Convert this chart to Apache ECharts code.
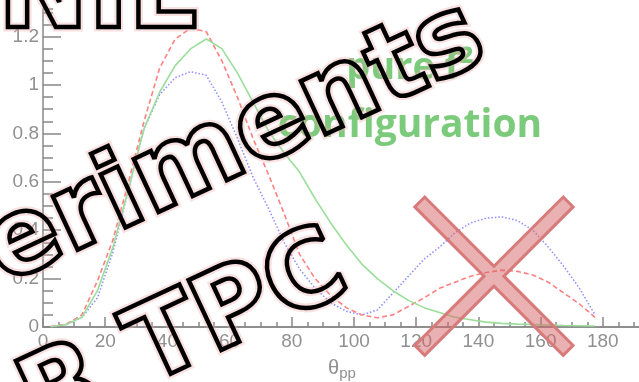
<!DOCTYPE html>
<html>
<head>
<meta charset="utf-8">
<script src="https://cdn.jsdelivr.net/npm/echarts@6/dist/echarts.min.js"></script>
<style>
  html, body { margin: 0; padding: 0; background: #fff; }
  #chart { width: 639px; height: 382px; }
</style>
</head>
<body>
<div id="chart"></div>
<script>
// Opening angle between the two protons (bin centres, degrees)
const theta = [2.5, 7.5, 12.5, 17.5, 22.5, 27.5, 32.5, 37.5, 42.5, 47.5, 52.5, 57.5,
  62.5, 67.5, 72.5, 77.5, 82.5, 87.5, 92.5, 97.5, 102.5, 107.5, 112.5, 117.5,
  122.5, 127.5, 132.5, 137.5, 142.5, 147.5, 152.5, 157.5, 162.5, 167.5, 172.5, 177.5];

// Distributions (dashed red, dotted blue, solid green)
const redCurve = [0.002, 0.012, 0.05, 0.19, 0.36, 0.60, 0.85, 1.07, 1.19, 1.235, 1.22, 1.10,
  0.95, 0.78, 0.63, 0.47, 0.30, 0.20, 0.13, 0.08, 0.05, 0.038, 0.05, 0.085,
  0.12, 0.16, 0.185, 0.21, 0.225, 0.235, 0.23, 0.215, 0.185, 0.14, 0.095, 0.04];
const blueCurve = [0.001, 0.01, 0.04, 0.12, 0.31, 0.57, 0.82, 0.96, 1.03, 1.055, 1.04, 0.93,
  0.78, 0.62, 0.49, 0.35, 0.24, 0.16, 0.10, 0.065, 0.05, 0.07, 0.14, 0.21,
  0.28, 0.33, 0.39, 0.43, 0.45, 0.455, 0.44, 0.40, 0.33, 0.25, 0.16, 0.05];
const greenCurve = [0.001, 0.01, 0.04, 0.15, 0.33, 0.57, 0.82, 0.97, 1.08, 1.15, 1.19, 1.15,
  1.05, 0.93, 0.81, 0.72, 0.64, 0.53, 0.43, 0.34, 0.26, 0.20, 0.15, 0.11,
  0.08, 0.06, 0.04, 0.03, 0.02, 0.015, 0.012, 0.01, 0.008, 0.006, 0.005, 0.004];

// Tick labels
const xTickValues = [0, 20, 40, 60, 80, 100, 120, 140, 160, 180];
const yTickValues = [0, 0.2, 0.4, 0.6, 0.8, 1, 1.2];

// Where the cross marker sits, in data coordinates
const crossAt = [145, 0.21];

const AXIS = '#888';
const LABEL = '#909090';
const axisFont = 'Liberation Sans';

const pairs = arr => theta.map((t, i) => [t, arr[i]]);
const near = (v, list) => list.some(t => Math.abs(t - v) < 1e-6);

const chart = echarts.init(document.getElementById('chart'), null, { renderer: 'canvas' });

chart.setOption({
  animation: false,
  backgroundColor: '#fff',
  grid: { left: 43, top: 9, width: 622, height: 318, containLabel: false, outerBoundsMode: 'none' },
  xAxis: [{
    type: 'value', position: 'bottom', min: 0, max: 200, interval: 20,
    axisLine: { lineStyle: { color: AXIS, width: 1.5 } },
    axisTick: { inside: true, length: 10, lineStyle: { color: AXIS, width: 1.5 } },
    minorTick: { show: true, splitNumber: 4, length: 5, lineStyle: { color: AXIS, width: 1.5 } },
    splitLine: { show: false },
    axisLabel: {
      color: LABEL, fontSize: 19, fontFamily: axisFont, margin: 5,
      formatter: v => near(v, xTickValues) ? String(v) : ''
    },
    name: '{t|θ}{s|pp}',
    nameLocation: 'middle',
    nameGap: 28,
    nameTextStyle: {
      padding: [0, 24, 0, 0],
      rich: {
        t: { fontSize: 20, fontFamily: axisFont, color: LABEL },
        s: { fontSize: 15, fontFamily: axisFont, color: LABEL, padding: [11, 0, 0, 0] }
      }
    }
  }, {
    type: 'value', position: 'top', min: 0, max: 200,
    axisLine: { lineStyle: { color: AXIS, width: 1.5 } },
    axisTick: { show: false }, axisLabel: { show: false }, splitLine: { show: false }
  }],
  yAxis: [{
    type: 'value', position: 'left', min: 0, max: 1.314, interval: 0.2,
    axisLine: { show: true, lineStyle: { color: AXIS, width: 1.5 } },
    axisTick: { inside: true, length: 18, lineStyle: { color: AXIS, width: 1.5 } },
    splitLine: { show: false },
    axisLabel: {
      color: LABEL, fontSize: 19, fontFamily: axisFont, margin: 4, showMaxLabel: false,
      formatter: v => near(v, yTickValues) ? String(v) : ''
    }
  }, {
    type: 'value', position: 'left', min: 0, max: 1.314, interval: 0.05,
    axisLine: { show: false },
    axisTick: { inside: true, length: 10, lineStyle: { color: AXIS, width: 1.5 } },
    splitLine: { show: false },
    axisLabel: { show: false }
  }],
  series: [
    { name: 'red', type: 'line', data: pairs(redCurve), showSymbol: false, z: 3,
      lineStyle: { color: '#ff8080', width: 1.6, type: [5, 3] } },
    { name: 'blue', type: 'line', data: pairs(blueCurve), showSymbol: false, z: 2,
      lineStyle: { color: '#9090ff', width: 1.6, type: [1.5, 2] } },
    { name: 'green', type: 'line', data: pairs(greenCurve), showSymbol: false, z: 4,
      lineStyle: { color: '#9ade9a', width: 1.6 } }
  ]
});

// Overlay: annotation text, cross marker and outlined headline words
const c = chart.convertToPixel({ gridIndex: 0 }, crossAt);
const h = 74.2, e = 4.95, a = 9.9;
const crossPts = [[0, -a], [h - e, -h - e], [h + e, -h + e], [a, 0], [h + e, h - e], [h - e, h + e],
  [0, a], [-h + e, h + e], [-h - e, h - e], [-a, 0], [-h - e, -h + e], [-h + e, -h - e]];

const rot = 25 * Math.PI / 180;
const font = size => 'bold ' + size + 'px "DejaVu Sans"';
// soft pink halo underneath, crisp black contour on top
const halo = (text, x, y, size, rotation) => ({
  type: 'text', x, y, rotation, z: 290, silent: true,
  style: {
    text, font: font(size), fill: 'none',
    stroke: 'rgba(238,170,170,0.35)', lineWidth: 9,
    shadowBlur: 8, shadowColor: 'rgba(230,120,120,0.6)',
    align: 'left', verticalAlign: 'middle'
  }
});
const contour = (text, x, y, size, rotation) => ({
  type: 'text', x, y, rotation, z: 300, silent: true,
  style: {
    text, font: font(size), fill: 'none', stroke: '#000', lineWidth: 4.5,
    align: 'left', verticalAlign: 'middle'
  }
});
const words = [
  ['NIL', -2, -1, 108, 0],
  ['eriments', -8, 259, 107, rot],
  ['R TPC', 28, 410, 106, rot]
];

chart.setOption({
  graphic: [
    { type: 'text', x: 410, y: 68, z: 100,
      style: { text: 'pure f²', font: 'bold 38px "Open Sans"', fill: '#7ccb7c', align: 'center', verticalAlign: 'middle' } },
    { type: 'text', x: 410, y: 126, z: 100,
      style: { text: 'configuration', font: 'bold 39px "Open Sans"', fill: '#7ccb7c', align: 'center', verticalAlign: 'middle' } },
    { type: 'polygon', x: c[0], y: c[1], z: 200,
      shape: { points: crossPts },
      style: { fill: 'rgba(212,100,100,0.5)', stroke: '#d97a7a', lineWidth: 3 } }
  ].concat(words.map(w => halo(...w)), words.map(w => contour(...w)))
});
</script>
</body>
</html>
